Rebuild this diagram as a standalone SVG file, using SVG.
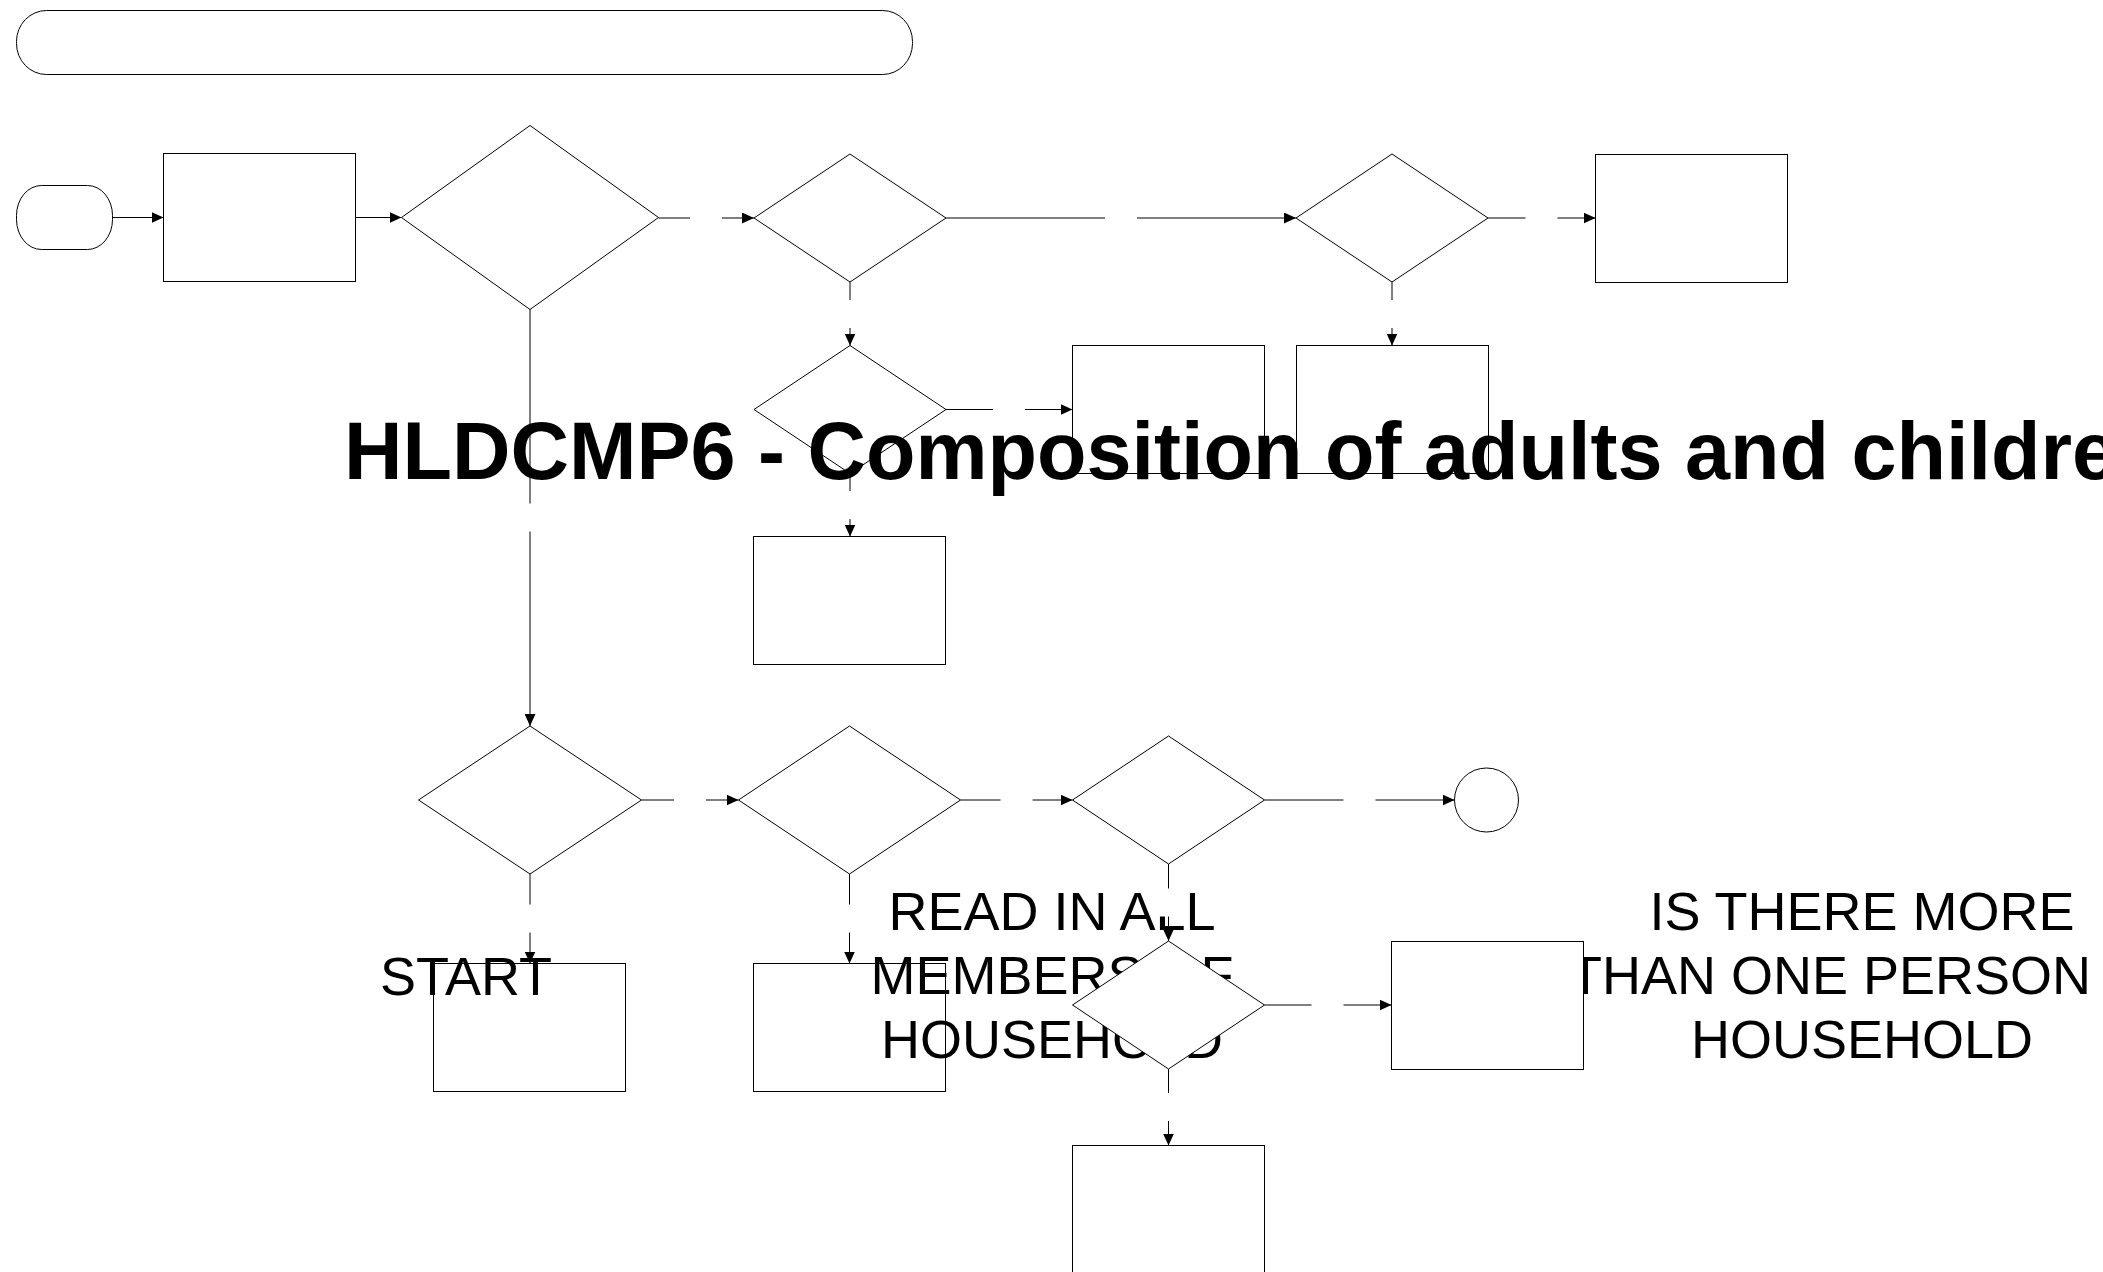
<svg xmlns="http://www.w3.org/2000/svg" width="2103" height="1272" viewBox="0 0 2103 1272">
<style>
.s{fill:#fff;stroke:#000;stroke-width:1}
.c{fill:none;stroke:#000;stroke-width:1;marker-end:url(#ah)}
.lbl{fill:#fff;stroke:none}
.t{font-family:"Liberation Sans",Arial,sans-serif;font-size:54px;fill:#000}
.title{font-family:"Liberation Sans",Arial,sans-serif;font-size:81px;font-weight:bold;fill:#000}
</style>
<defs>
<marker id="ah" markerWidth="12" markerHeight="11" refX="12" refY="5.5" orient="auto" markerUnits="userSpaceOnUse"><path d="M0,0 L12,5.5 L0,11 z" fill="#000"/></marker>
</defs>
<rect width="2103" height="1272" fill="#fff"/>
<g id="n_rect2"><rect class="s" x="1595.5" y="154.5" width="192" height="128"/></g>
<g id="n_diamond2"><polygon class="s" points="850,154 946,218 850,282 754,218"/></g>
<g id="n_diamond3"><polygon class="s" points="1392,154 1488,218 1392,282 1296,218"/></g>
<g id="n_diamond4"><polygon class="s" points="850,345.5 946,409.5 850,473.5 754,409.5"/></g>
<g id="n_rect3"><rect class="s" x="1072.5" y="345.5" width="192" height="128"/></g>
<g id="n_rect4"><rect class="s" x="1296.5" y="345.5" width="192" height="128"/></g>
<g id="n_rect5"><rect class="s" x="753.5" y="536.5" width="192" height="128"/></g>
<g id="n_diamond5"><polygon class="s" points="530,726 641.5,800 530,874 418.5,800"/></g>
<g id="n_diamond6"><polygon class="s" points="849.5,726 960.5,800 849.5,874 738.5,800"/></g>
<g id="n_diamond7"><polygon class="s" points="1168.5,736 1264.5,800 1168.5,864 1072.5,800"/></g>
<g id="n_end"><circle class="s" cx="1486.5" cy="800" r="32"/></g>
<g id="n_rect8"><rect class="s" x="433.5" y="963.5" width="192" height="128"/></g>
<g id="n_rect9"><rect class="s" x="753.5" y="963.5" width="192" height="128"/></g>
<g id="n_rect7"><rect class="s" x="1072.5" y="1145.5" width="192" height="128"/></g>
<g id="n_start"><rect class="s" x="16.5" y="185.5" width="96" height="64" rx="25" ry="30"/><text class="t" x="466" y="995" text-anchor="middle">START</text></g>
<g id="n_rect1"><rect class="s" x="163.5" y="153.5" width="192" height="128"/><text class="t" text-anchor="middle"><tspan x="1052" y="930">READ IN ALL</tspan><tspan x="1052" y="994">MEMBERS OF</tspan><tspan x="1052" y="1058">HOUSEHOLD</tspan></text></g>
<g id="n_diamond1"><polygon class="s" points="530,125.5 658.5,217.5 530,309.5 401.5,217.5"/><text class="t" text-anchor="middle"><tspan x="1862" y="930">IS THERE MORE</tspan><tspan x="1830" y="994">THAN ONE PERSON</tspan><tspan x="1862" y="1058">HOUSEHOLD</tspan></text></g>
<g id="n_title"><rect class="s" x="16.5" y="10.5" width="896" height="64" rx="30" ry="31"/><text class="title" x="344" y="479">HLDCMP6 - Composition of adults and children</text></g>
<g id="n_diamond8"><polygon class="s" points="1168.5,941 1264.5,1005 1168.5,1069 1072.5,1005"/></g>
<g id="n_rect6"><rect class="s" x="1391.5" y="941.5" width="192" height="128"/></g>
<g id="connectors">
<path class="c" d="M112.5,217.5 H163.5"/>
<path class="c" d="M355.5,217.5 H401.5"/>
<path class="c" d="M658.5,218 H754"/>
<path class="c" d="M946,218 H1296"/>
<path class="c" d="M1488,218 H1595.5"/>
<path class="c" d="M850,282 V345.5"/>
<path class="c" d="M1392,282 V345.5"/>
<path class="c" d="M530,309.5 V726"/>
<path class="c" d="M946,409.5 H1072.5"/>
<path class="c" d="M850,473.5 V536.5"/>
<path class="c" d="M641.5,800 H738.5"/>
<path class="c" d="M960.5,800 H1072.5"/>
<path class="c" d="M1264.5,800 H1454.5"/>
<path class="c" d="M530,874 V963.5"/>
<path class="c" d="M849.5,874 V963.5"/>
<path class="c" d="M1168.5,864 V941"/>
<path class="c" d="M1264.5,1005 H1391.5"/>
<path class="c" d="M1168.5,1069 V1145.5"/>
<rect class="lbl" x="690" y="204" width="32" height="28"/>
<rect class="lbl" x="1105" y="204" width="32" height="28"/>
<rect class="lbl" x="1525.5" y="204" width="32" height="28"/>
<rect class="lbl" x="834" y="300" width="32" height="28"/>
<rect class="lbl" x="1376" y="300" width="32" height="28"/>
<rect class="lbl" x="514" y="503.5" width="32" height="28"/>
<rect class="lbl" x="993" y="395.5" width="32" height="28"/>
<rect class="lbl" x="834" y="491" width="32" height="28"/>
<rect class="lbl" x="674" y="786" width="32" height="28"/>
<rect class="lbl" x="1000.5" y="786" width="32" height="28"/>
<rect class="lbl" x="1343.5" y="786" width="32" height="28"/>
<rect class="lbl" x="514" y="904.5" width="32" height="28"/>
<rect class="lbl" x="833.5" y="904.5" width="32" height="28"/>
<rect class="lbl" x="1152.5" y="888.5" width="32" height="28"/>
<rect class="lbl" x="1311.5" y="991" width="32" height="28"/>
<rect class="lbl" x="1152.5" y="1093" width="32" height="28"/>
</g>
</svg>
